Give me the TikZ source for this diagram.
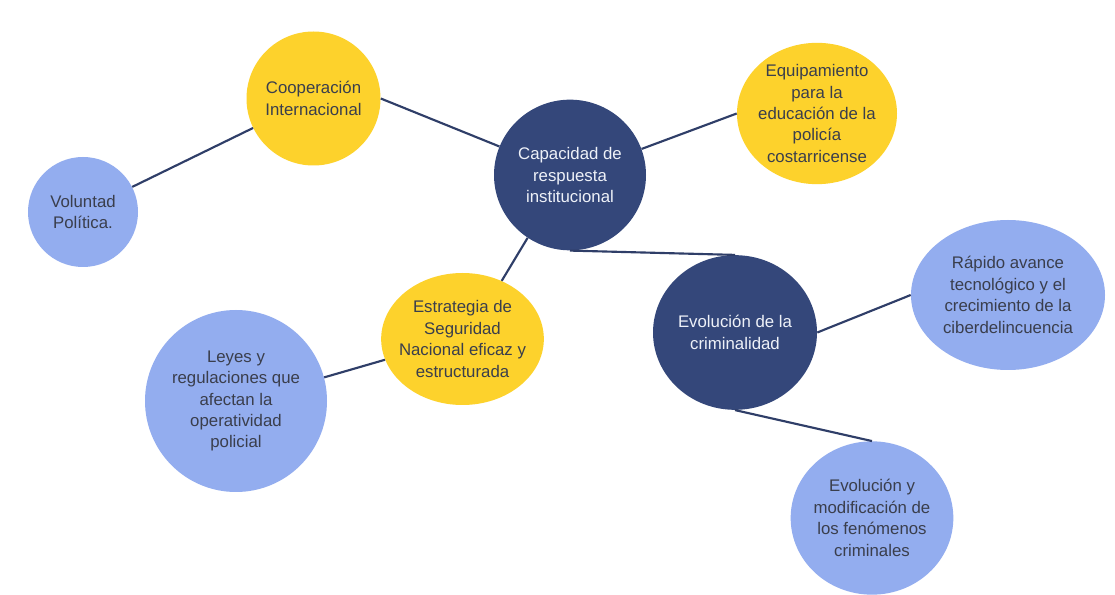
\documentclass[tikz,border=0pt]{standalone}
\usepackage{fontspec}
\setmainfont{Liberation Sans}
\usepackage{tikz}
\usetikzlibrary{shapes,positioning}
\definecolor{navy3}{HTML}{34477A}
\definecolor{gold3}{HTML}{FDD22C}
\definecolor{sky3}{HTML}{93ADEF}
\definecolor{link3}{HTML}{2F3E68}
\definecolor{ink3}{HTML}{3A3E4C}
\definecolor{paper3}{HTML}{EEF1F8}
\tikzset{idea/.style={ellipse,draw=none,inner sep=-12pt,align=center,font=\fontsize{12.6}{16.1}\selectfont}}
\tikzset{core/.style={idea,fill=navy3,text=paper3}}
\tikzset{branch/.style={idea,fill=gold3,text=ink3}}
\tikzset{leaf/.style={idea,fill=sky3,text=ink3}}
\tikzset{dims/.style 2 args={minimum width=#1,minimum height=#2}}
\tikzset{link/.style={draw=link3,line width=1.6pt}}

\begin{document}
\begin{tikzpicture}[x=0.75pt,y=-0.75pt]
        \path[use as bounding box,fill=white] (0,0) rectangle (1115,595);

        \node[core,dims={114pt}{113pt}] (cap) at (570,175) {Capacidad de\\respuesta\\institucional};
        \node[branch,dims={100.5pt}{100.5pt}] (coop) at (313.5,98.5) {Cooperación\\Internacional};
        \node[leaf,dims={82.5pt}{82.5pt}] (vol) at (83,212) {Voluntad\\Política.};
        \node[branch,dims={120pt}{106pt}] (equip) at (817,113.5) {Equipamiento\\para la\\educación de la\\policía\\costarricense};
        \node[branch,dims={122pt}{99pt}] (estr) at (462.5,339) {Estrategia de\\Seguridad\\Nacional eficaz y\\estructurada};
        \node[leaf,dims={136.5pt}{136.5pt}] (leyes) at (236,401) {Leyes y\\regulaciones que\\afectan la\\operatividad\\policial};
        \node[core,dims={123pt}{116pt}] (evo) at (735,332.5) {Evolución de la\\criminalidad};
        \node[leaf,dims={145.5pt}{112.5pt}] (rap) at (1008,295) {Rápido avance\\tecnológico y el\\crecimiento de la\\ciberdelincuencia};
        \node[leaf,dims={122pt}{115pt}] (evom) at (872,518) {Evolución y\\modificación de\\los fenómenos\\criminales};

        \draw[link] (vol.27) to (coop.206);
        \draw[link] (coop.0) to (cap.158);
        \draw[link] (cap.20) to (equip.180);
        \draw[link] (cap.236) to (estr.56);
        \draw[link] (estr.195) to (leyes.15);
        \draw[link] (cap.south) to (evo.north);
        \draw[link] (evo.east) to (rap.west);
        \draw[link] (evo.south) to (evom.north);
    \end{tikzpicture}
\end{document}
